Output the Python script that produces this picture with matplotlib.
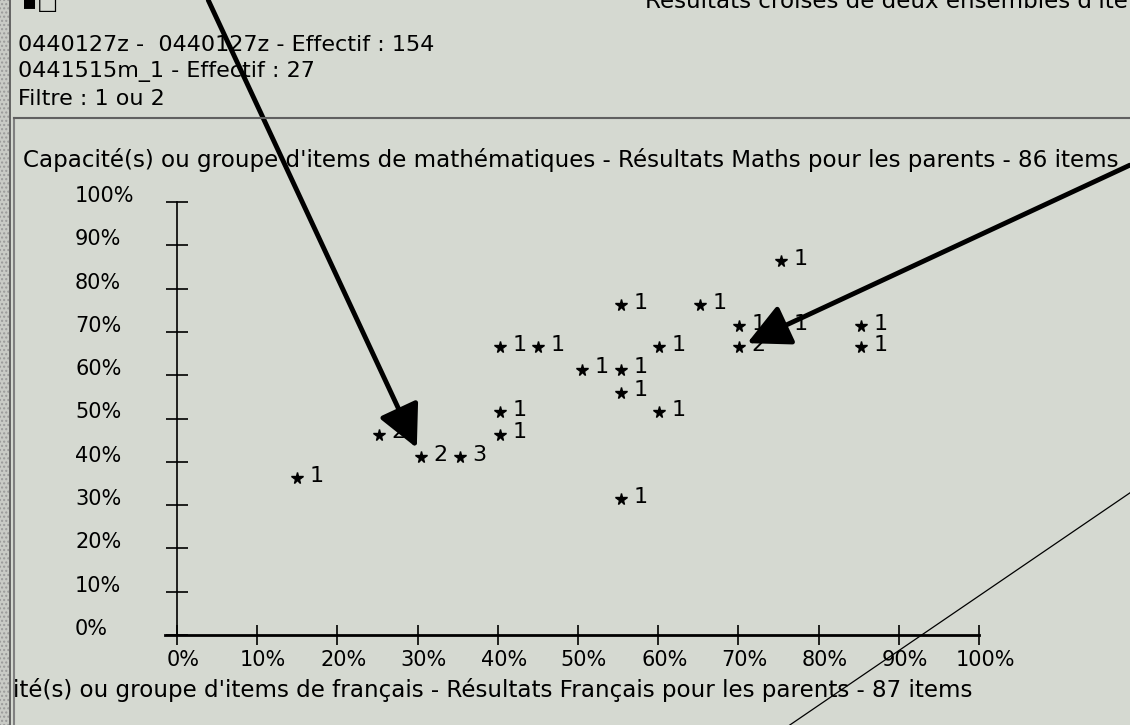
import matplotlib
matplotlib.use("Agg")
import matplotlib.pyplot as plt
from matplotlib.transforms import ScaledTranslation
from matplotlib.patches import Rectangle
from matplotlib.lines import Line2D

# ---------------- data ----------------
fr_pct = [15.0, 25.2, 30.4, 35.3, 40.3, 40.3, 40.3, 45.0, 50.5, 55.4, 55.4,
          55.4, 55.4, 60.1, 60.1, 65.2, 70.1, 70.1, 75.3, 75.3, 85.3, 85.3]
math_pct = [36.3, 46.3, 41.0, 41.0, 51.4, 46.3, 66.4, 66.4, 61.3, 61.3, 56.0,
            76.2, 31.3, 66.4, 51.4, 76.2, 71.3, 66.4, 71.3, 86.3, 71.3, 66.4]
counts = [1, 2, 2, 3, 1, 1, 1, 1, 1, 1, 1,
          1, 1, 1, 1, 1, 1, 2, 1, 1, 1, 1]
tick_values = [0, 10, 20, 30, 40, 50, 60, 70, 80, 90, 100]
tick_labels = ["0%", "10%", "20%", "30%", "40%", "50%", "60%", "70%", "80%", "90%", "100%"]

header_lines = ["0440127z -  0440127z - Effectif : 154",
                "0441515m_1 - Effectif : 27",
                "Filtre : 1 ou 2"]
top_title = "Résultats croisés de deux ensembles d'items"
y_title = "Capacité(s) ou groupe d'items de mathématiques - Résultats Maths pour les parents - 86 items"
x_title = "ité(s) ou groupe d'items de français - Résultats Français pour les parents - 87 items"

# annotation arrows (tail -> tip) and diagonal line, in data units
arrow1_tail, arrow1_tip = (3.9, 146.6), (29.9, 43.2)
arrow2_tail, arrow2_tip = (118.8, 108.5), (71.1, 67.4)
diag_x = [76.4, 118.8]
diag_y = [-20.8, 32.8]

# ---------------- layout ----------------
W, H = 1130, 725
X0, XS = 177, 8.02      # pixel of x=0, pixels per %
Y0, YS = 635, 4.33      # pixel (from top) of y=0, pixels per %
BG = "#d5d9d1"
FS_TITLE = 16.6
FS_HEAD = 16
FS_PT = 16
FS_TICK = 15

def fx(px):
    return px / W

def fy(py):
    return 1 - py / H

fig = plt.figure(figsize=(W / 100, H / 100), dpi=100)
fig.patch.set_facecolor(BG)

ax = fig.add_axes([0, 0, 1, 1])
ax.set_facecolor("none")
ax.set_xlim(-X0 / XS, (W - X0) / XS)
ax.set_ylim(-(H - Y0) / YS, Y0 / YS)

for s in ("top", "right"):
    ax.spines[s].set_visible(False)
ax.spines["left"].set_position(("data", 0))
ax.spines["left"].set_bounds(0, 100)
ax.spines["left"].set_linewidth(1.2)
ax.spines["bottom"].set_position(("data", 0))
ax.spines["bottom"].set_bounds(-1.5, 100)
ax.spines["bottom"].set_linewidth(2.0)

ax.set_xticks(tick_values, tick_labels)
ax.set_yticks(tick_values, tick_labels)
ax.tick_params(axis="y", direction="inout", length=15.8, width=1.2,
               pad=65.5, labelsize=FS_TICK)
ax.tick_params(axis="x", direction="inout", length=14.4, width=1.2,
               pad=3.6, labelsize=FS_TICK)
for lab in ax.get_yticklabels():
    lab.set_ha("left")
    lab.set_transform(lab.get_transform() +
                      ScaledTranslation(0, 8 / 100, fig.dpi_scale_trans))
for lab in ax.get_xticklabels():
    lab.set_transform(lab.get_transform() +
                      ScaledTranslation(6 / 100, 0, fig.dpi_scale_trans))

# points and counts
ax.plot(fr_pct, math_pct, ls="none", marker="*", ms=8.5, color="black", zorder=3)
for x, y, c in zip(fr_pct, math_pct, counts):
    ax.annotate(str(c), (x, y), xytext=(9, 1.5), textcoords="offset points",
                va="center", ha="left", fontsize=FS_PT, zorder=3)

# diagonal thin line
ax.plot(diag_x, diag_y, color="black", lw=0.9, clip_on=False, zorder=2)

# arrows
for tail, tip in ((arrow1_tail, arrow1_tip), (arrow2_tail, arrow2_tip)):
    ax.annotate("", xy=tip, xytext=tail, annotation_clip=False, zorder=5,
                arrowprops=dict(arrowstyle="-|>,head_length=2.6,head_width=1.3",
                                mutation_scale=10, lw=3.5, color="black",
                                shrinkA=0, shrinkB=0))

# header texts
fig.text(fx(22), fy(9), "▪□", fontsize=FS_HEAD, va="baseline")
fig.text(fx(645), fy(8), top_title, fontsize=FS_TITLE, va="baseline")
for i, line in enumerate(header_lines):
    fig.text(fx(18), fy(45 + 27 * i), line, fontsize=FS_HEAD, va="center")
fig.text(fx(23), fy(160), y_title, fontsize=FS_TITLE, va="center")
fig.text(fx(13), fy(690), x_title, fontsize=FS_TITLE, va="center")

# window chrome: left border and separator line
fig.patches.append(Rectangle((0, 0), fx(9), 1, transform=fig.transFigure,
                             facecolor="#c9cbc6", edgecolor="#9a9a9a",
                             hatch="....", lw=0))
fig.lines.append(Line2D([fx(10), fx(10)], [0, 1], transform=fig.transFigure,
                        color="#505050", lw=1.2))
fig.lines.append(Line2D([fx(14), fx(14)], [0, fy(118)], transform=fig.transFigure,
                        color="#808080", lw=1.5))
fig.lines.append(Line2D([fx(14), 1], [fy(118), fy(118)], transform=fig.transFigure,
                        color="#606060", lw=1.5))

fig.savefig("out.png", dpi=100, facecolor=BG)
